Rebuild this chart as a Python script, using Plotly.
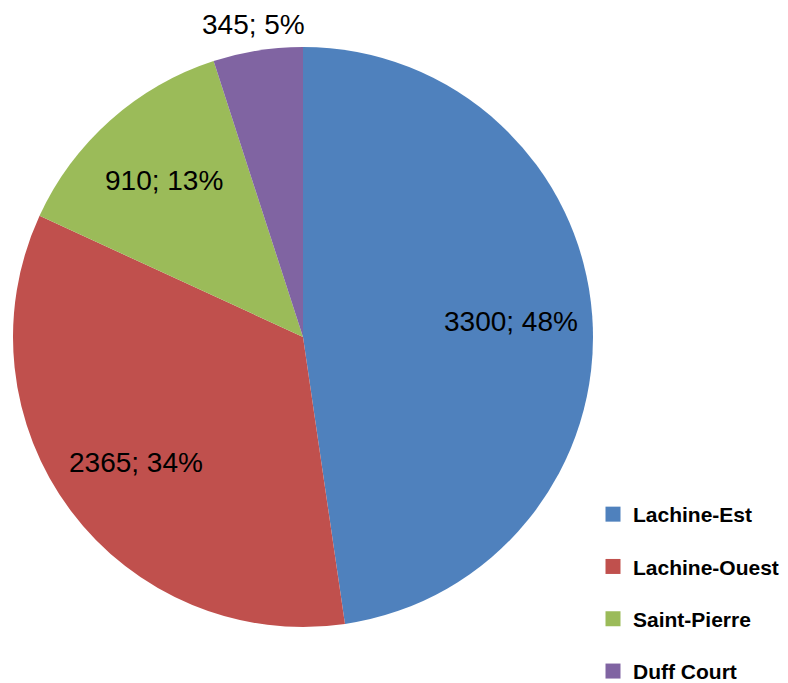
import math
import plotly.graph_objects as go

# Data
categories = ["Lachine-Est", "Lachine-Ouest", "Saint-Pierre", "Duff Court"]
values = [3300, 2365, 910, 345]
colors = ["#4F81BD", "#C0504D", "#9BBB59", "#8064A2"]
label_outside = [False, False, False, True]

OFF = 8  # default page body margin
W, H = 788, 683 - OFF
cx, cy, R = 303 - OFF, 337 - OFF, 290

fig = go.Figure()
fig.add_trace(go.Pie(
    labels=categories, values=values, sort=False, direction="clockwise",
    rotation=0, marker=dict(colors=colors, line=dict(width=0)),
    textinfo="none", hoverinfo="label+value+percent", showlegend=False,
    domain=dict(x=[(cx - R) / W, (cx + R) / W], y=[1 - (cy + R) / H, 1 - (cy - R) / H]),
))

# Dummy traces for legend entries (for Excel-like spacing)
for i, (c, col) in enumerate(zip(categories, colors)):
    fig.add_trace(go.Scatter(
        x=[None], y=[None], mode="markers", name=c, legendgroup=f"g{i}",
        marker=dict(symbol="square", size=15, color=col), showlegend=True,
    ))

# Data labels
total = sum(values)
cum = 0
for v, out in zip(values, label_outside):
    mid = (cum + v / 2) / total * 2 * math.pi
    cum += v
    r = R * (1.09 if out else 0.72)
    px = cx + r * math.sin(mid)
    py = cy - r * math.cos(mid)
    pct = round(v / total * 100)
    fig.add_annotation(
        x=px / W, y=1 - py / H, xref="paper", yref="paper",
        text=f"{v}; {pct}%", showarrow=False,
        font=dict(family="Liberation Sans, Arial, sans-serif", size=28, color="#000000"),
        xanchor="center", yanchor="middle",
    )

fig.update_layout(
    width=W, height=H, margin=dict(l=0, r=0, t=0, b=0, autoexpand=False),
    paper_bgcolor="white", plot_bgcolor="white",
    xaxis=dict(visible=False), yaxis=dict(visible=False),
    legend=dict(
        x=(593 - OFF) / W, y=-9 / H, xanchor="left", yanchor="bottom",
        traceorder="grouped", tracegroupgap=22, itemsizing="trace",
        font=dict(family="Liberation Sans, Arial, sans-serif", size=21, color="#000000", weight="bold"),
        bgcolor="rgba(0,0,0,0)",
    ),
)

fig.write_html("out.html")
